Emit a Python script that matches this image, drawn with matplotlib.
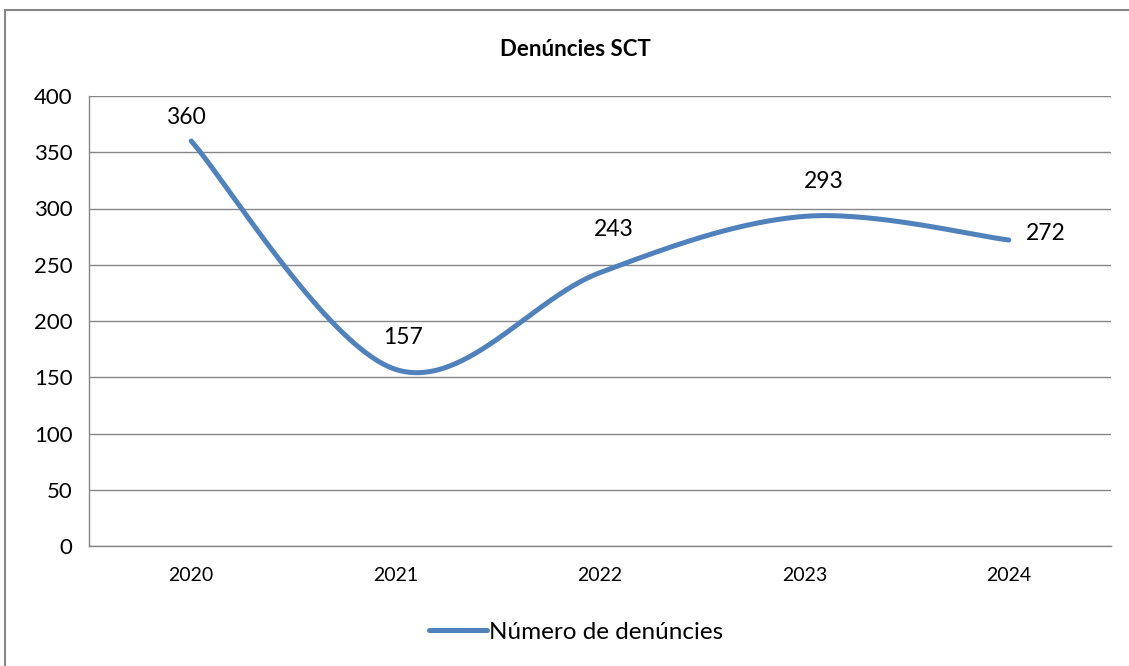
import numpy as np
import matplotlib.pyplot as plt
from matplotlib.patches import Rectangle

plt.rcParams['font.family'] = ['Lato', 'DejaVu Sans']

# yearly complaint counts
years = ['2020', '2021', '2022', '2023', '2024']
denuncies = [360, 157, 243, 293, 272]
y_ticks = [0, 50, 100, 150, 200, 250, 300, 350, 400]

# label offsets in pixels (dx, dy) for each point
label_offsets = [(-5, 23), (7, 32), (14, 43), (19, 35), (37, 7)]

blue = '#4F81BD'
gray = '#868686'


def smooth_line(x, y, steps=60):
    # catmull-rom style bezier through every point (like office smoothed lines)
    x = np.asarray(x, float)
    y = np.asarray(y, float)
    px = np.concatenate([[x[0]], x, [x[-1]]])
    py = np.concatenate([[y[0]], y, [y[-1]]])
    t = np.linspace(0, 1, steps)[:, None]
    xs, ys = [], []
    for i in range(1, len(px) - 2):
        p0 = np.array([px[i], py[i]])
        p3 = np.array([px[i + 1], py[i + 1]])
        p1 = p0 + (p3 - np.array([px[i - 1], py[i - 1]])) / 6
        p2 = p3 - (np.array([px[i + 2], py[i + 2]]) - p0) / 6
        pts = ((1 - t) ** 3) * p0 + 3 * ((1 - t) ** 2) * t * p1 \
            + 3 * (1 - t) * t ** 2 * p2 + t ** 3 * p3
        xs.append(pts[:, 0])
        ys.append(pts[:, 1])
    return np.concatenate(xs), np.concatenate(ys)


fig = plt.figure(figsize=(11.29, 6.66), dpi=100)
ax = fig.add_axes([89 / 1129, 1 - 546 / 666, 1022 / 1129, 450 / 666])

# outer chart border
fig.patches.append(Rectangle((5 / 1129, -0.05), 1.2, 1 - 10 / 666 + 0.05,
                             transform=fig.transFigure, fill=False,
                             edgecolor=gray, linewidth=1.5))

xpos = np.arange(len(years))
sx, sy = smooth_line(xpos, denuncies)
ax.plot(sx, sy, color=blue, linewidth=3.6, solid_capstyle='round',
        label='Número de denúncies')

for x, v, (dx, dy) in zip(xpos, denuncies, label_offsets):
    ax.annotate(str(v), (x, v), xytext=(dx, dy), textcoords='offset pixels',
                ha='center', va='center', fontsize=16.5, color='black')

ax.set_xlim(-0.5, len(years) - 0.5)
ax.set_ylim(0, 400)
ax.set_xticks(xpos)
ax.set_xticklabels(years, fontsize=14)
ax.set_yticks(y_ticks)
ax.tick_params(axis='y', labelsize=16, length=0, pad=12)
ax.tick_params(axis='x', length=0, pad=15)
ax.grid(axis='y', color=gray, linewidth=1)
ax.set_axisbelow(True)
for s in ['top', 'right']:
    ax.spines[s].set_visible(False)
for s in ['left', 'bottom']:
    ax.spines[s].set_color(gray)
    ax.spines[s].set_linewidth(1)

fig.text(575 / 1129, 1 - 50 / 666, 'Denúncies SCT', ha='center', va='center',
         fontsize=16, fontweight='bold')

fig.legend(loc='center', bbox_to_anchor=(576 / 1129, 1 - 632 / 666),
           frameon=False, fontsize=17.5, handlelength=2.4, handletextpad=0.1)

fig.savefig('out.png', dpi=100)
